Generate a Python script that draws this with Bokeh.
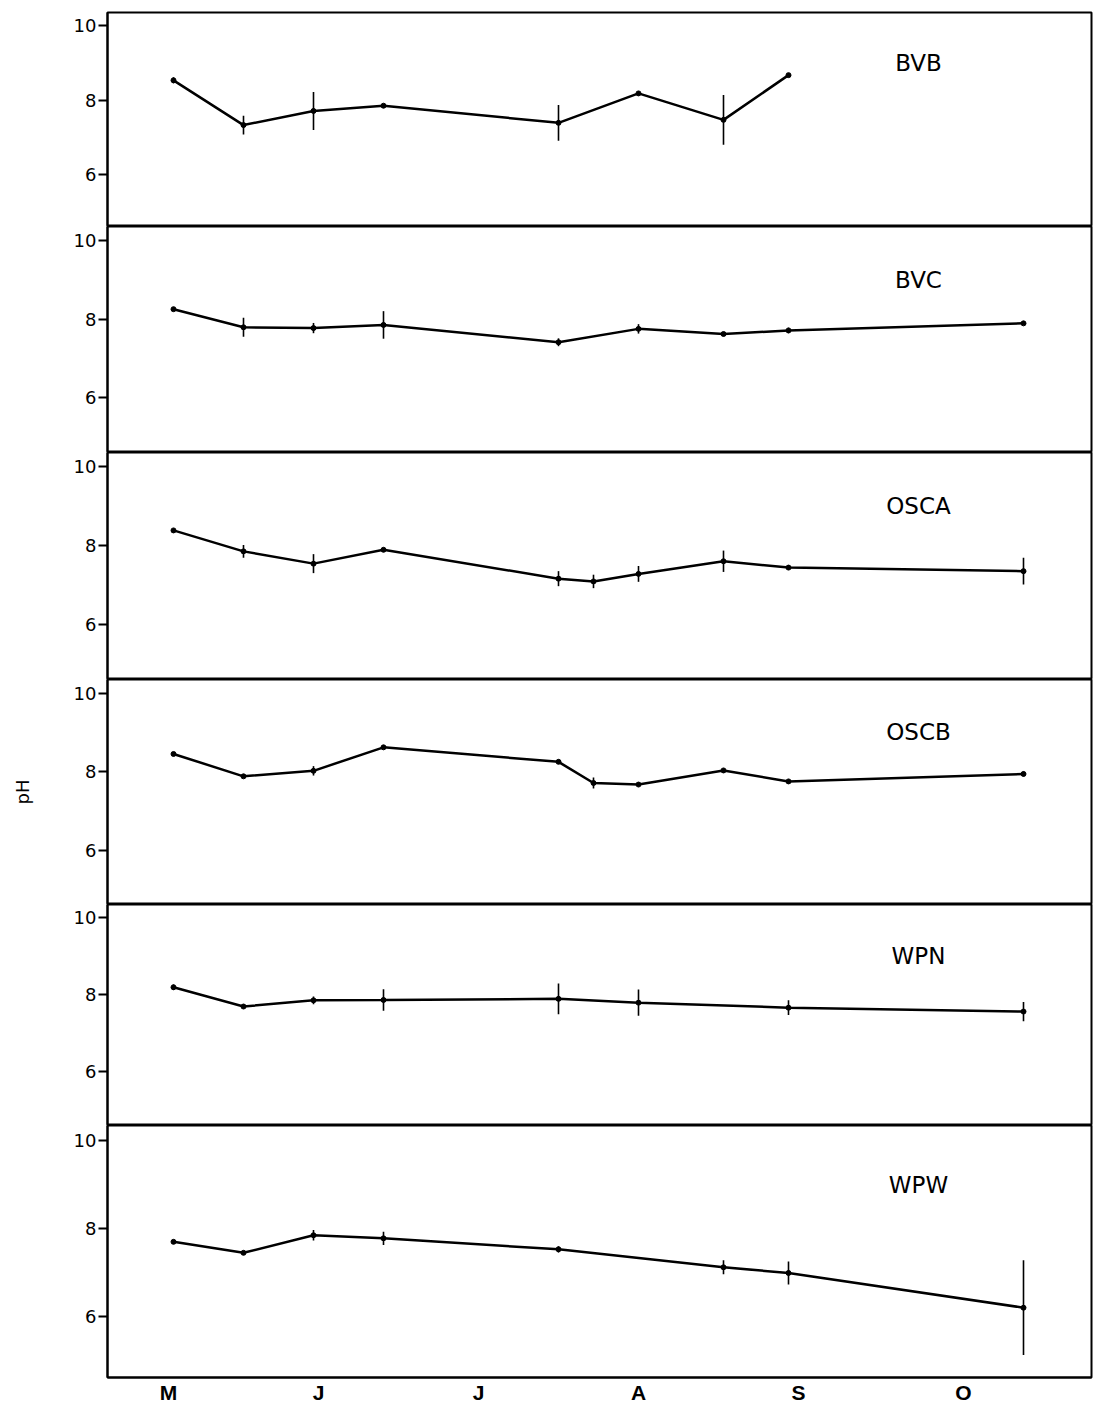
from bokeh.plotting import figure
from bokeh.layouts import column
from bokeh.models import FixedTicker, Range1d, Label
from bokeh.embed import file_html
from bokeh.resources import INLINE

# x values: sampling day of year
month_ticks = [122, 152, 184, 216, 248, 281]
month_labels = ["M", "J", "J", "A", "S", "O"]

site_names = ["BVB", "BVC", "OSCA", "OSCB", "WPN", "WPW"]

bvb_day = [123, 137, 151, 165, 200, 216, 233, 246]
bvb_ph = [8.53, 7.33, 7.71, 7.85, 7.39, 8.18, 7.47, 8.67]
bvb_err = [0.08, 0.25, 0.51, 0.04, 0.48, 0.05, 0.67, 0.04]

bvc_day = [123, 137, 151, 165, 200, 216, 233, 246, 293]
bvc_ph = [8.25, 7.79, 7.77, 7.85, 7.41, 7.75, 7.62, 7.71, 7.89]
bvc_err = [0.03, 0.24, 0.13, 0.35, 0.10, 0.12, 0.05, 0.07, 0.04]

osca_day = [123, 137, 151, 165, 200, 207, 216, 233, 246, 293]
osca_ph = [8.38, 7.85, 7.54, 7.89, 7.16, 7.09, 7.28, 7.60, 7.44, 7.35]
osca_err = [0.03, 0.16, 0.24, 0.05, 0.19, 0.17, 0.20, 0.27, 0.06, 0.34]

oscb_day = [123, 137, 151, 165, 200, 207, 216, 233, 246, 293]
oscb_ph = [8.45, 7.88, 8.02, 8.62, 8.25, 7.71, 7.67, 8.03, 7.75, 7.94]
oscb_err = [0.04, 0.04, 0.12, 0.05, 0.05, 0.14, 0.04, 0.04, 0.04, 0.06]

wpn_day = [123, 137, 151, 165, 200, 216, 246, 293]
wpn_ph = [8.20, 7.70, 7.86, 7.87, 7.90, 7.80, 7.67, 7.57]
wpn_err = [0.07, 0.04, 0.10, 0.28, 0.40, 0.34, 0.19, 0.25]

wpw_day = [123, 137, 151, 165, 200, 233, 246, 293]
wpw_ph = [7.70, 7.45, 7.85, 7.78, 7.53, 7.12, 6.99, 6.20]
wpw_err = [0.04, 0.04, 0.12, 0.15, 0.07, 0.16, 0.26, 1.08]

y_ticks = [6, 8, 10]

sites = [
    (bvb_day, bvb_ph, bvb_err),
    (bvc_day, bvc_ph, bvc_err),
    (osca_day, osca_ph, osca_err),
    (oscb_day, oscb_ph, oscb_err),
    (wpn_day, wpn_ph, wpn_err),
    (wpw_day, wpw_ph, wpw_err),
]

heights = [226, 226, 227, 225, 221, 290]
tops = [12, 0, 0, 0, 0, 0]
bottoms = [0, 0, 0, 0, 0, 38]

x_range = Range1d(109.8, 306.6)
figs = []
for i, (name, (d, ph, er)) in enumerate(zip(site_names, sites)):
    last = i == len(site_names) - 1
    p = figure(width=1095, height=heights[i], x_range=x_range,
               y_range=Range1d(4.61, 10.35), output_backend="svg",
               toolbar_location=None, min_border_left=107, min_border_right=4,
               min_border_top=tops[i], min_border_bottom=bottoms[i])
    p.grid.visible = False
    p.outline_line_color = "black"
    p.outline_line_width = 2
    p.background_fill_color = "white"
    p.border_fill_color = "white"

    ya = p.yaxis[0]
    ya.ticker = FixedTicker(ticks=y_ticks)
    ya.axis_line_width = 2
    ya.major_tick_line_width = 2
    ya.major_tick_out = 9
    ya.major_tick_in = 0
    ya.minor_tick_line_color = None
    ya.major_label_standoff = 2
    ya.major_label_text_font = "DejaVu Sans"
    ya.major_label_text_font_size = "18px"
    ya.major_label_text_color = "black"
    if i == 3:
        ya.axis_label = "pH"
        ya.axis_label_text_font = "DejaVu Sans"
        ya.axis_label_text_font_size = "18px"
        ya.axis_label_text_font_style = "normal"
        ya.axis_label_text_color = "black"
        ya.axis_label_standoff = 38

    xa = p.xaxis[0]
    if last:
        xa.ticker = FixedTicker(ticks=month_ticks)
        xa.major_label_overrides = {t: l for t, l in zip(month_ticks, month_labels)}
        xa.major_tick_line_color = None
        xa.minor_tick_line_color = None
        xa.major_tick_out = 0
        xa.major_tick_in = 0
        xa.axis_line_width = 2
        xa.major_label_standoff = 3
        xa.major_label_text_font = "Liberation Sans"
        xa.major_label_text_font_style = "bold"
        xa.major_label_text_font_size = "21px"
        xa.major_label_text_color = "black"
    else:
        xa.visible = False

    y0 = [v - e for v, e in zip(ph, er)]
    y1 = [v + e for v, e in zip(ph, er)]
    p.segment(x0=d, y0=y0, x1=d, y1=y1, line_color="black", line_width=1.6)
    p.line(d, ph, line_color="black", line_width=2.5)
    p.scatter(d, ph, size=5, color="black")

    p.add_layout(Label(x=272, y=9.0, text=name, text_align="center",
                       text_baseline="middle", text_font="DejaVu Sans",
                       text_font_size="23px", text_color="black"))
    figs.append(p)

layout = column(*figs, spacing=0)
open("out.html", "w").write(file_html(layout, INLINE))
